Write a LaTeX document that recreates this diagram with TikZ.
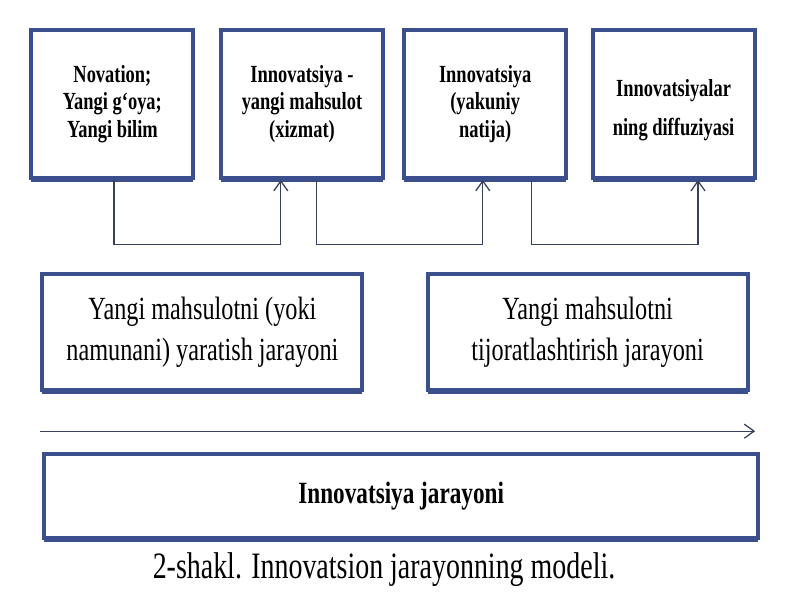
\documentclass[tikz,border=0pt]{standalone}
\usepackage{fontspec}
\setmainfont{Liberation Serif}[FakeStretch=0.75]
\usepackage{tikz}
\usetikzlibrary{arrows.meta,shadows}

\definecolor{boxblue}{RGB}{58,79,140}
\definecolor{linegray}{RGB}{55,65,95}

\begin{document}
\begin{tikzpicture}[
    bluebox/.style={draw=boxblue,line width=2.8pt,fill=white,align=center,drop shadow={shadow xshift=0pt,shadow yshift=-3pt,fill=boxblue,opacity=1}},
    topbox/.style={bluebox,minimum width=4.05cm,minimum height=3.7cm,font=\bfseries\fontsize{17.5}{19.5}\selectfont},
    procbox/.style={bluebox,minimum width=8.0cm,minimum height=2.9cm,font=\fontsize{23}{29}\selectfont},
    flow/.style={draw=linegray,line width=0.9pt,-{Straight Barb[length=7pt,width=10pt]}}]
  \useasboundingbox (0,0) rectangle (20,15);
  % top row
  \node[topbox] (nov) at (2.81,12.4) {Novation;\\Yangi g‘oya;\\Yangi bilim};
  \node[topbox] (prod) at (7.55,12.4) {Innovatsiya -\\yangi mahsulot\\(xizmat)};
  \node[topbox] (res) at (12.13,12.4) {Innovatsiya\\(yakuniy\\natija)};
  \node[topbox] (diff) at (16.84,12.4) {\rule{0pt}{21pt}Innovatsiyalar\\[8pt]ning diffuziyasi};
  \draw[flow] ([xshift=0.04cm]nov.south) |- (7.02,8.88) -- ([xshift=-0.53cm]prod.south);
  \draw[flow] ([xshift=0.37cm]prod.south) |- (12.07,8.88) -- ([xshift=-0.06cm]res.south);
  \draw[flow] ([xshift=1.15cm]res.south) |- (17.45,8.88) -- ([xshift=0.61cm]diff.south);
  % processes
  \node[procbox] (make) at (5.06,6.7) {Yangi mahsulotni (yoki\\namunani) yaratish jarayoni};
  \node[procbox] (trade) at (14.69,6.7) {Yangi mahsulotni\\tijoratlashtirish jarayoni};
  \coordinate (t0) at (1.0,4.22);
  \coordinate (t1) at (18.88,4.22);
  \draw[flow] (t0) -- (t1);
  \node[procbox,minimum width=17.85cm,minimum height=2.1cm,font=\bfseries\fontsize{22}{26}\selectfont] (proc) at (10.03,2.6) {Innovatsiya jarayoni};
  \node[font=\fontsize{26.5}{30}\selectfont] (cap) at (9.6,0.75) {2-shakl. Innovatsion jarayonning modeli.};
\end{tikzpicture}
\end{document}
